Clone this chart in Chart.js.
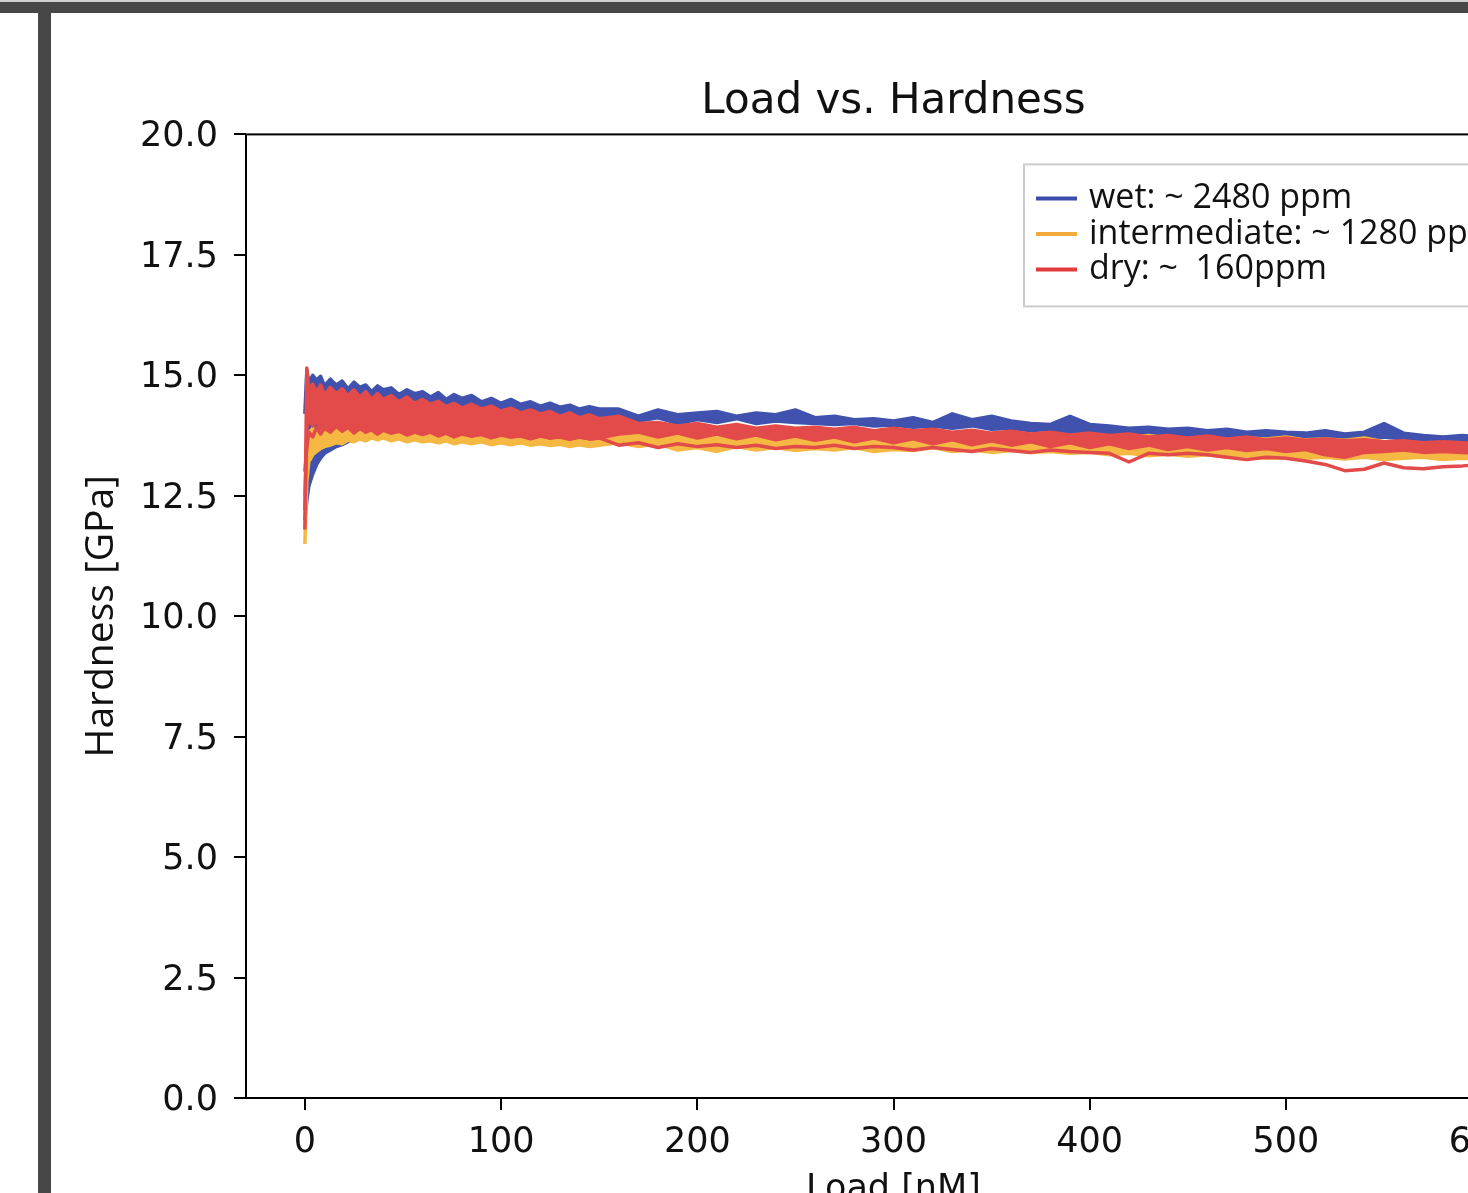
<!DOCTYPE html>
<html><head><meta charset="utf-8">
<script src="https://cdn.jsdelivr.net/npm/chart.js@4"></script>
<style>
html,body{margin:0;padding:0;background:#fff;overflow:hidden;width:1468px;height:1193px;}
#wrap{position:absolute;left:0;top:0;width:1468px;height:1193px;overflow:hidden;background:#fff;}
#c{position:absolute;left:0;top:0;}
#topbar{position:absolute;left:0;top:0;width:1468px;height:13px;background:#474747;border-top:2px solid #d0d0d0;box-sizing:border-box;}
#leftbar{position:absolute;left:38px;top:13px;width:13px;height:1180px;background:#474747;}
</style></head>
<body><div id="wrap"><canvas id="c" width="1700" height="1300"></canvas><div id="topbar"></div><div id="leftbar"></div></div>
<script>
// ---- data ----
const loadNm = [0,1,2,4,6,8,10,13,16,19,22,25,28,31,34,37,40,44,48,52,56,60,64,68,72,76,80,85,90,95,100,105,110,115,120,125,130,135,140,145,150,
160,170,180,190,200,210,220,230,240,250,260,270,280,290,300,310,320,330,340,350,360,370,380,390,400,410,420,430,440,450,460,470,480,490,500,510,520,530,540,550,560,570,580,590,600];

const wetA = [14.2,15.1,14.85,15.0,14.9,14.98,14.78,
14.92,14.8,14.88,14.72,14.86,14.75,14.8,14.66,14.78,14.7,
14.74,14.6,14.7,14.62,14.66,14.55,14.64,14.5,14.6,14.52,
14.58,14.45,14.52,14.42,14.5,14.4,14.45,14.36,14.42,14.34,14.38,14.3,14.35,14.3,
14.3,14.15,14.28,14.18,14.22,14.25,14.15,14.22,14.18,14.28,
14.12,14.15,14.08,14.1,14.05,14.12,14.02,14.2,14.08,14.15,
14.05,14.0,13.98,14.15,13.98,13.95,13.9,13.92,13.88,13.9,
13.85,13.88,13.82,13.85,13.82,13.8,13.85,13.78,13.82,14.0,
13.8,13.75,13.72,13.75,13.72];
const wetB = [12.0,12.4,12.7,12.95,13.15,13.28,13.38,
13.45,13.52,13.56,13.62,13.7,13.78,13.86,13.94,14.0,14.06,
14.12,14.15,14.2,14.2,14.22,14.18,14.2,14.16,14.18,14.14,
14.16,14.12,14.14,14.1,14.12,14.08,14.1,14.07,14.08,14.05,14.07,14.04,14.06,14.05,
14.1,14.05,14.12,14.0,14.08,14.02,14.1,14.0,14.05,14.02,
14.0,13.98,14.0,13.95,13.97,13.92,13.95,13.9,13.95,13.88,
13.9,13.85,13.88,13.82,13.85,13.8,13.82,13.78,13.8,13.75,
13.78,13.72,13.75,13.7,13.72,13.7,13.72,13.68,13.7,13.72,
13.68,13.65,13.66,13.65,13.64];
const intA = [11.5,12.8,13.2,13.35,13.42,13.48,13.52,
13.55,13.6,13.58,13.65,13.62,13.68,13.64,13.7,13.66,13.7,
13.64,13.68,13.62,13.66,13.62,13.64,13.6,13.64,13.58,13.62,
13.58,13.62,13.56,13.6,13.56,13.6,13.55,13.58,13.54,13.57,13.52,13.56,13.52,13.55,
13.6,13.52,13.58,13.45,13.5,13.42,13.52,13.45,13.5,13.44,
13.48,13.45,13.5,13.42,13.46,13.44,13.5,13.42,13.45,13.4,
13.44,13.4,13.42,13.38,13.4,13.35,13.38,13.33,13.36,13.32,
13.35,13.3,13.33,13.28,13.3,13.28,13.3,13.26,13.3,13.25,
13.28,13.3,13.25,13.28,13.26];
const intB = [12.5,13.5,13.8,13.9,13.85,13.95,13.88,
13.98,13.9,13.96,13.86,13.94,13.85,13.92,13.84,13.9,13.82,
13.9,13.8,13.88,13.8,13.86,13.78,13.85,13.78,13.84,13.76,
13.82,13.75,13.8,13.74,13.8,13.72,13.78,13.72,13.78,13.7,13.76,13.7,13.75,13.7,
14.1,13.8,13.78,13.72,13.75,13.7,13.72,13.68,13.72,13.7,
13.75,13.8,13.72,13.7,13.68,13.7,13.65,13.68,13.7,13.66,
13.68,13.65,13.7,13.72,13.68,13.65,13.72,13.75,13.7,13.68,
13.72,13.65,13.7,13.68,13.72,13.66,13.68,13.65,13.7,13.62,
13.58,13.55,13.52,13.5,13.52];
const dryA = [11.8,15.15,14.7,14.82,14.65,14.8,14.6,
14.75,14.62,14.72,14.58,14.7,14.55,14.66,14.5,14.62,14.5,
14.58,14.45,14.55,14.42,14.5,14.4,14.46,14.35,14.42,14.32,
14.4,14.3,14.36,14.26,14.32,14.22,14.28,14.2,14.25,14.15,14.22,14.12,14.18,14.1,
14.15,14.0,14.02,13.95,14.0,13.92,13.98,13.9,13.95,13.9,
13.92,13.88,13.92,13.85,13.9,13.85,13.88,13.82,13.86,13.8,
13.84,13.78,13.82,13.76,13.8,13.75,13.78,13.72,13.75,13.7,
13.74,13.68,13.72,13.66,13.7,13.65,13.68,13.64,13.66,13.62,
13.64,13.6,13.62,13.6,13.58];
const dryB = [12.2,13.9,14.1,13.95,14.05,13.9,14.0,
13.88,13.98,13.85,13.95,13.86,13.92,13.82,13.9,13.84,13.88,
13.8,13.86,13.78,13.85,13.8,13.84,13.76,13.82,13.75,13.8,
13.74,13.8,13.72,13.78,13.72,13.76,13.7,13.75,13.7,13.74,13.68,13.72,13.68,13.7,
13.78,13.82,13.72,13.8,13.7,13.78,13.68,13.76,13.66,13.74,
13.65,13.72,13.62,13.7,13.6,13.68,13.58,13.66,13.56,13.64,
13.55,13.62,13.52,13.6,13.5,13.58,13.48,13.55,13.46,13.52,
13.45,13.5,13.44,13.48,13.42,13.46,13.35,13.3,13.4,13.42,
13.45,13.4,13.42,13.4,13.38];
const dryC = [13.0,13.5,13.82,13.72,13.92,13.78,13.9,
13.82,13.94,13.84,13.92,13.8,13.9,13.82,13.87,13.78,13.86,
13.8,13.84,13.76,13.82,13.77,13.82,13.74,13.8,13.72,13.78,
13.74,13.77,13.7,13.76,13.72,13.74,13.68,13.74,13.7,13.72,13.67,13.72,13.68,13.7,
13.55,13.6,13.5,13.58,13.52,13.56,13.5,13.55,13.48,13.52,
13.5,13.55,13.48,13.52,13.5,13.45,13.5,13.46,13.42,13.48,
13.44,13.4,13.45,13.42,13.4,13.38,13.2,13.38,13.35,13.38,
13.35,13.3,13.25,13.3,13.28,13.22,13.15,13.02,13.05,13.18,
13.08,13.06,13.1,13.12,13.15];

const seriesLabels = ['wet: ~ 2480 ppm', 'intermediate: ~ 1280 ppm', 'dry: ~  160ppm'];
const legendColors = ['#3a4dab', '#f2aa3a', '#e23a3a'];
const lineColors = ['#4052ae', '#f4b843', '#e34a4a'];
const xTicks = [0, 100, 200, 300, 400, 500, 600];
const yTicks = [0, 2.5, 5, 7.5, 10, 12.5, 15, 17.5, 20];
const yTickLabels = ['0.0', '2.5', '5.0', '7.5', '10.0', '12.5', '15.0', '17.5', '20.0'];

// ---- chart ----
const pts = arr => loadNm.map((x, i) => ({x: x, y: arr[i]}));
const LW = 3.5;
function ds(label, arr, color, fill) {
  return {label: label, data: pts(arr), borderColor: color, backgroundColor: color,
    borderWidth: LW, pointRadius: 0, tension: 0, fill: fill, borderJoinStyle: 'round'};
}
const datasets = [
  ds(seriesLabels[2], dryA, lineColors[2], '+1'),
  ds(seriesLabels[2], dryB, lineColors[2], false),
  ds(seriesLabels[2], dryC, lineColors[2], false),
  ds(seriesLabels[1], intB, lineColors[1], '+1'),
  ds(seriesLabels[1], intA, lineColors[1], false),
  ds(seriesLabels[0], wetA, lineColors[0], '+1'),
  ds(seriesLabels[0], wetB, lineColors[0], false)
];

const frame = {
  id: 'frame',
  afterDatasetsDraw(chart) {
    const a = chart.chartArea, ctx = chart.ctx;
    ctx.save();
    ctx.strokeStyle = '#000'; ctx.lineWidth = 2;
    ctx.strokeRect(a.left, a.top, a.right - a.left, a.bottom - a.top);
    ctx.restore();
  }
};
const boxLegend = {
  id: 'boxLegend',
  afterDraw(chart) {
    const a = chart.chartArea, ctx = chart.ctx;
    const bx = a.right - 517, by = a.top + 30, bw = 500, bh = 142;
    ctx.save();
    ctx.fillStyle = 'rgba(255,255,255,0.85)';
    ctx.fillRect(bx, by, bw, bh);
    ctx.strokeStyle = '#cccccc'; ctx.lineWidth = 2;
    ctx.strokeRect(bx, by, bw, bh);
    ctx.font = '34px "Open Sans"';
    ctx.textBaseline = 'alphabetic';
    for (let i = 0; i < seriesLabels.length; i++) {
      const ly = by + 34 + i * 35.5;
      ctx.strokeStyle = legendColors[i]; ctx.lineWidth = 4;
      ctx.beginPath(); ctx.moveTo(bx + 12, ly); ctx.lineTo(bx + 53, ly); ctx.stroke();
      ctx.fillStyle = '#111';
      ctx.fillText(seriesLabels[i], bx + 65, ly + 10);
    }
    ctx.restore();
  }
};

new Chart(document.getElementById('c'), {
  type: 'line',
  data: {datasets: datasets},
  plugins: [frame, boxLegend],
  options: {
    responsive: false, animation: false, devicePixelRatio: 1,
    layout: {padding: {left: 70, top: 43, right: 159, bottom: 82}},
    plugins: {
      legend: {display: false}, tooltip: {enabled: false},
      title: {display: true, text: 'Load vs. Hardness', fullSize: false, color: '#111',
        font: {family: 'DejaVu Sans', size: 42, weight: 'normal'}, padding: {top: 34, bottom: 7}}
    },
    scales: {
      x: {type: 'linear', min: -30, max: 630,
        afterBuildTicks: s => { s.ticks = xTicks.map(v => ({value: v})); },
        afterFit: s => { s.height = 120; },
        ticks: {color: '#111', font: {family: 'DejaVu Sans', size: 35}, padding: 12, maxRotation: 0, autoSkip: false},
        grid: {display: true, drawOnChartArea: false, drawTicks: true, tickLength: 12, color: '#000', lineWidth: 2},
        border: {display: false},
        title: {display: true, text: 'Load [nM]', color: '#111', font: {family: 'DejaVu Sans', size: 35}, padding: {top: 0, bottom: 7}}
      },
      y: {type: 'linear', min: 0, max: 20,
        afterBuildTicks: s => { s.ticks = yTicks.map(v => ({value: v})); },
        afterFit: s => { s.width = 176; },
        ticks: {color: '#111', font: {family: 'DejaVu Sans', size: 35}, padding: 16, autoSkip: false, labelOffset: 3,
          callback: (v, i) => yTickLabels[i]},
        grid: {display: true, drawOnChartArea: false, drawTicks: true, tickLength: 12, color: '#000', lineWidth: 2},
        border: {display: false},
        title: {display: true, text: 'Hardness [GPa]', color: '#111', font: {family: 'Open Sans', size: 39}, padding: {top: 8, bottom: 0}}
      }
    }
  }
});
</script>
</body></html>
